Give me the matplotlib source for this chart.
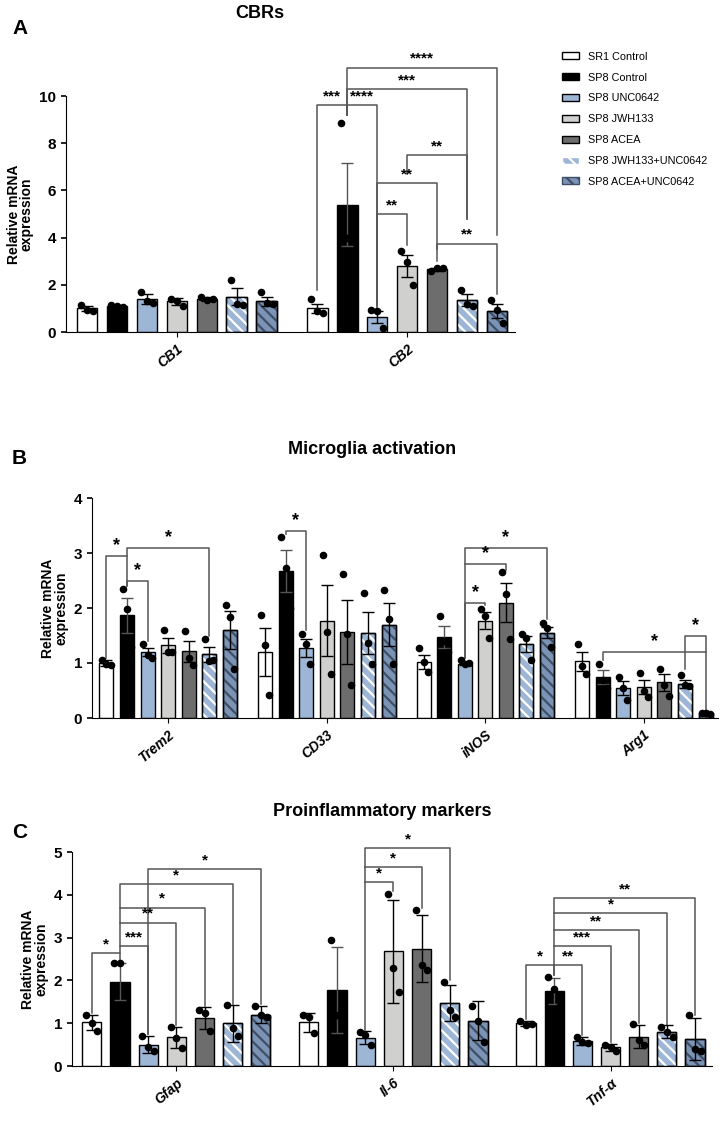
import matplotlib.pyplot as plt
from matplotlib.patches import Patch

plt.rcParams['font.family'] = ['Liberation Sans', 'DejaVu Sans']
plt.rcParams['hatch.linewidth'] = 1.6

groups_names = ['SR1 Control', 'SP8 Control', 'SP8 UNC0642', 'SP8 JWH133', 'SP8 ACEA',
                'SP8 JWH133+UNC0642', 'SP8 ACEA+UNC0642']
colors = ['white', 'black', '#9db6d6', '#d0d1cf', '#6d6d6d', '#9db6d6', '#7b93b5']
hatches = [None, None, None, None, None, '\\\\\\', '\\\\\\']
hatch_cols = [None, None, None, None, None, 'white', '#3f4f66']

# Panel A
a_genes = ['CB1', 'CB2']
a_means = [[1.0, 1.1, 1.4, 1.3, 1.4, 1.5, 1.3], [1.0, 5.4, 0.65, 2.8, 2.65, 1.35, 0.9]]
a_err = [[0.1, 0.05, 0.2, 0.15, 0.1, 0.35, 0.2], [0.2, 1.75, 0.25, 0.45, 0.05, 0.25, 0.3]]
a_pts = [[[1.15, 0.95, 0.9], [1.15, 1.1, 1.05], [1.7, 1.3, 1.25], [1.4, 1.3, 1.1], [1.5, 1.35, 1.4], [2.2, 1.2, 1.15], [1.7, 1.25, 1.2]],
         [[1.4, 0.9, 0.8], [8.85, 4.0, 3.3], [0.95, 0.9, 0.15], [3.45, 2.95, 2.0], [2.6, 2.7, 2.7], [1.8, 1.2, 1.1], [1.35, 0.95, 0.4]]]
# (group, bar1, bar2, height, left leg end, right leg end, label)
a_brk = [(1, 0, 1, 9.6, 1.8, 9.2, '***'), (1, 1, 2, 9.6, 9.2, 1.0, '****'),
         (1, 1, 6, 11.2, 9.2, 4.1, '****'), (1, 1, 5, 10.3, 9.2, 4.8, '***'),
         (1, 3, 5, 7.5, 6.7, 4.8, '**'), (1, 2, 4, 6.3, 1.2, 3.0, '**'),
         (1, 2, 3, 5.0, 1.1, 3.7, '**'), (1, 4, 6, 3.75, 3.5, 1.6, '**')]

# Panel B
b_genes = ['Trem2', 'CD33', 'iNOS', 'Arg1']
b_means = [[1.0, 1.87, 1.2, 1.32, 1.21, 1.16, 1.6], [1.2, 2.67, 1.27, 1.77, 1.57, 1.54, 1.7],
           [1.02, 1.47, 0.99, 1.77, 2.1, 1.35, 1.55], [1.03, 0.74, 0.55, 0.56, 0.65, 0.62, 0.09]]
b_err = [[0.05, 0.32, 0.08, 0.14, 0.19, 0.14, 0.35], [0.43, 0.38, 0.16, 0.64, 0.58, 0.38, 0.39],
         [0.12, 0.2, 0.03, 0.15, 0.36, 0.15, 0.1], [0.17, 0.13, 0.13, 0.13, 0.15, 0.08, 0.02]]
b_pts = [[[1.05, 0.98, 0.97], [2.35, 1.98, 1.3], [1.35, 1.15, 1.1], [1.6, 1.2, 1.2], [1.58, 1.1, 0.96], [1.43, 1.03, 1.05], [2.05, 1.83, 0.9]],
         [[1.88, 1.32, 0.42], [3.3, 2.72, 2.0], [1.52, 1.35, 0.98], [2.97, 1.57, 0.8], [2.62, 1.52, 0.6], [2.28, 1.37, 0.98], [2.33, 1.8, 0.98]],
         [[1.27, 1.02, 0.83], [1.85, 1.4, 1.2], [1.06, 0.98, 1.0], [1.98, 1.85, 1.45], [2.65, 2.25, 1.43], [1.53, 1.45, 1.05], [1.73, 1.63, 1.3]],
         [[1.35, 0.95, 0.8], [0.98, 0.7, 0.55], [0.75, 0.55, 0.33], [0.81, 0.5, 0.38], [0.9, 0.6, 0.4], [0.78, 0.6, 0.58], [0.1, 0.1, 0.07]]]
b_brk = [(0, 0, 1, 2.95, 1.1, 2.4, '*'), (0, 1, 2, 2.5, 2.4, 1.4, '*'), (0, 1, 5, 3.1, 2.95, 1.5, '*'),
         (1, 1, 2, 3.4, 3.35, 1.6, '*'), (2, 2, 3, 2.1, 1.1, 2.05, '*'), (2, 2, 4, 2.8, 1.1, 2.7, '*'),
         (2, 2, 6, 3.1, 2.8, 1.8, '*'), (3, 1, 6, 1.2, 1.05, 0.15, '*'), (3, 5, 6, 1.5, 0.9, 1.2, '*')]

# Panel C
c_genes = ['Gfap', 'Il-6', 'Tnf-α']
c_means = [[1.02, 1.97, 0.5, 0.67, 1.12, 1.0, 1.2], [1.02, 1.77, 0.66, 2.68, 2.74, 1.47, 1.06],
           [1.0, 1.75, 0.58, 0.44, 0.68, 0.8, 0.63]]
c_err = [[0.18, 0.43, 0.2, 0.25, 0.26, 0.43, 0.2], [0.22, 1.0, 0.15, 1.2, 0.78, 0.43, 0.46],
         [0.06, 0.3, 0.1, 0.08, 0.27, 0.15, 0.48]]
c_pts = [[[1.2, 1.0, 0.82], [2.4, 2.4, 1.1], [0.7, 0.45, 0.35], [0.92, 0.65, 0.43], [1.3, 1.25, 0.82], [1.43, 0.88, 0.7], [1.4, 1.18, 1.15]],
         [[1.2, 1.15, 0.78], [2.94, 1.2, 1.2], [0.79, 0.73, 0.5], [4.02, 2.3, 1.72], [3.65, 2.35, 2.25], [1.97, 1.3, 1.15], [1.4, 1.05, 0.55]],
         [[1.05, 0.96, 0.98], [2.07, 1.8, 1.4], [0.68, 0.55, 0.53], [0.5, 0.45, 0.35], [0.97, 0.6, 0.5], [0.92, 0.8, 0.68], [1.18, 0.4, 0.35]]]
c_brk = [(0, 0, 1, 2.63, 1.25, 2.45, '*'), (0, 1, 2, 2.8, 2.63, 0.75, '***'), (0, 1, 3, 3.35, 2.8, 0.95, '**'),
         (0, 1, 4, 3.7, 3.35, 1.4, '*'), (0, 1, 5, 4.25, 3.7, 1.45, '*'), (0, 2, 6, 4.6, 0.75, 1.45, '*'),
         (1, 2, 3, 4.3, 0.85, 4.1, '*'), (1, 2, 4, 4.65, 4.3, 3.7, '*'), (1, 2, 5, 5.1, 4.65, 2.0, '*'),
         (2, 0, 1, 2.35, 1.1, 2.12, '*'), (2, 1, 2, 2.35, 2.12, 0.72, '**'), (2, 1, 3, 2.8, 2.35, 0.55, '***'),
         (2, 1, 4, 3.17, 2.8, 1.0, '**'), (2, 1, 5, 3.57, 3.17, 0.95, '*'), (2, 1, 6, 3.93, 3.57, 1.2, '**')]

PITCH = 7.7


def xpos(g, i):
    return g * PITCH + i


def draw_panel(ax, genes, means, errs, pts, brks, ymax, ystep, fs_star):
    for g in range(len(genes)):
        for i in range(7):
            x = xpos(g, i)
            ax.bar(x, means[g][i], width=0.68, color=colors[i], edgecolor='black', linewidth=1.0, zorder=2)
            if hatches[i]:
                ax.bar(x, means[g][i], width=0.68, color='none', edgecolor=hatch_cols[i],
                       hatch=hatches[i], linewidth=0, zorder=3)
                ax.bar(x, means[g][i], width=0.68, color='none', edgecolor='black', linewidth=1.0, zorder=3)
            ax.errorbar(x, means[g][i], yerr=errs[g][i], color='black' if i != 1 else '#555555',
                        capsize=4, elinewidth=1, capthick=1, zorder=4)
            offs = [-0.2, 0.0, 0.2]
            ax.scatter([x + o for o in offs], pts[g][i], s=20, color='black', zorder=5)
    for g, i1, i2, h, e1, e2, lab in brks:
        x1, x2 = xpos(g, i1), xpos(g, i2)
        ax.plot([x1, x1, x2, x2], [e1, h, h, e2], color='#555555', lw=1.1, clip_on=False)
        ax.text((x1 + x2) / 2, h + ymax * 0.008, lab, ha='center', va='bottom',
                fontsize=fs_star, fontweight='bold')
    ax.set_xticks([xpos(g, 3) for g in range(len(genes))])
    ax.set_xticklabels(genes, rotation=40, ha='right', rotation_mode='anchor',
                       fontsize=10, fontweight='bold', style='italic')
    ax.set_xlim(-0.7, xpos(len(genes) - 1, 6) + 0.6)
    ax.set_ylim(0, ymax)
    ax.set_yticks(range(0, ymax + 1, ystep))
    ax.tick_params(axis='y', labelsize=11, width=1.2)
    for t in ax.get_yticklabels():
        t.set_fontweight('bold')
    ax.spines['top'].set_visible(False)
    ax.spines['right'].set_visible(False)
    ax.set_ylabel('Relative mRNA\nexpression', fontsize=10, fontweight='bold', linespacing=0.9)


W, H = 724, 1138
fig = plt.figure(figsize=(W / 100, H / 100), dpi=100)


def axes_px(l, r, top, bot):
    return fig.add_axes([l / W, 1 - bot / H, (r - l) / W, (bot - top) / H])


axA = axes_px(66, 515, 96, 332)
draw_panel(axA, a_genes, a_means, a_err, a_pts, a_brk, 10, 2, 11)
axB = axes_px(92, 718, 498, 718)
draw_panel(axB, b_genes, b_means, b_err, b_pts, b_brk, 4, 1, 13)
axC = axes_px(72, 712, 852, 1066)
draw_panel(axC, c_genes, c_means, c_err, c_pts, c_brk, 5, 1, 11)

fig.text(12 / W, 1 - 28 / H, 'A', fontsize=15, fontweight='bold', va='center')
fig.text(260 / W, 1 - 14 / H, 'CBRs', fontsize=13, fontweight='bold', ha='center', va='center')
fig.text(12 / W, 1 - 458 / H, 'B', fontsize=15, fontweight='bold', va='center')
fig.text(372 / W, 1 - 450 / H, 'Microglia activation', fontsize=13, fontweight='bold', ha='center', va='center')
fig.text(12 / W, 1 - 832 / H, 'C', fontsize=15, fontweight='bold', va='center')
fig.text(382 / W, 1 - 812 / H, 'Proinflammatory markers', fontsize=13, fontweight='bold', ha='center', va='center')

handles = []
for i in range(7):
    handles.append(Patch(facecolor=colors[i], edgecolor='black' if hatch_cols[i] is None else hatch_cols[i],
                         hatch=hatches[i], label=groups_names[i]))
fig.legend(handles=handles, loc='upper left', bbox_to_anchor=(552 / W, 1 - 42 / H), frameon=False,
           fontsize=7.8, handlelength=1.6, handleheight=0.6, labelspacing=1.0)

fig.savefig('out.png', dpi=100)
